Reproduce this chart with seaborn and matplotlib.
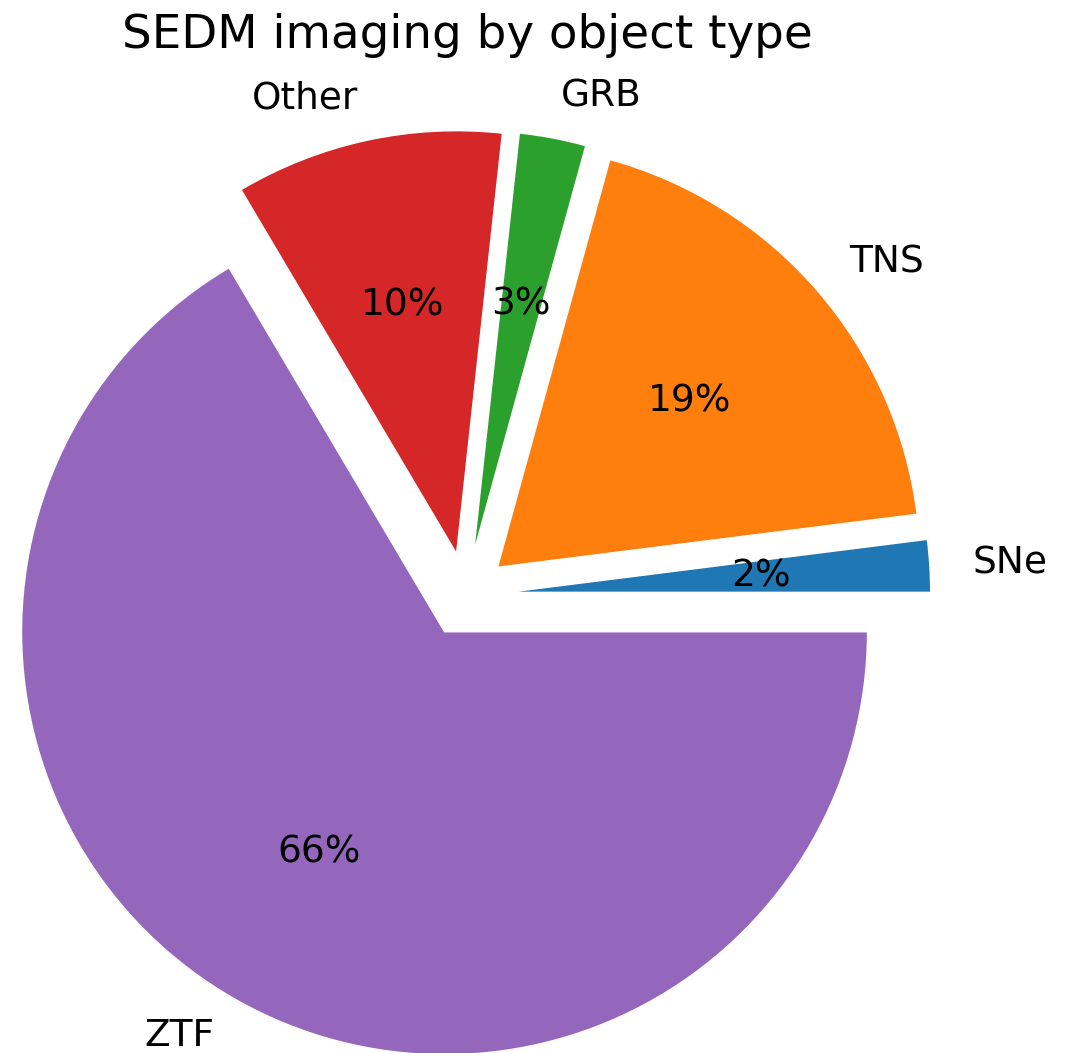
import matplotlib
matplotlib.use('Agg')
import matplotlib.pyplot as plt
import seaborn as sns

# Parts d'imagerie SEDM par type d'objet (en %)
labels = ['SNe', 'TNS', 'GRB', 'Other', 'ZTF']
shares = [2.0, 18.72, 2.55, 10.24, 66.49]
explode = [0.1, 0.1, 0.1, 0.1, 0.1]

sns.set_style('white')
plt.rcParams['font.family'] = ['DejaVu Sans']
plt.rcParams['text.color'] = 'black'
colors = sns.color_palette('tab10', len(labels))

fig = plt.figure(figsize=(10.78, 10.53), dpi=100)
ax = fig.add_axes([0, 0, 1, 1])

ax.pie(shares, labels=labels, explode=explode, colors=colors,
       autopct='%1.0f%%', startangle=0,
       textprops={'fontsize': 27, 'color': 'black'})

# cadrage pour placer le camembert comme dans l'original
R = 423.0
cx, cy = 465.5, 1053 - 595
ax.set_xlim(-cx / R, (1078 - cx) / R)
ax.set_ylim(-cy / R, (1053 - cy) / R)
ax.set_aspect('equal')
ax.axis('off')

fig.text(467 / 1078, 1 - 35 / 1053, 'SEDM imaging by object type',
         ha='center', va='center', fontsize=33.7, color='black')

fig.savefig('out.png', dpi=100)
